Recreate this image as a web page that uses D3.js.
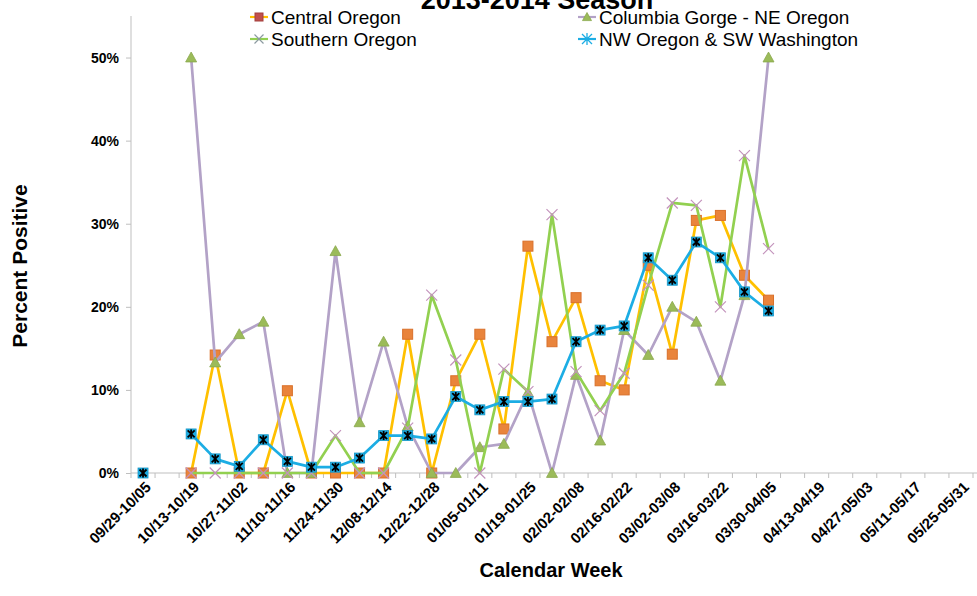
<!DOCTYPE html>
<html>
<head>
<meta charset="utf-8">
<script src="https://cdn.jsdelivr.net/npm/d3@7"></script>
<style>
  body { margin: 0; background: #fff; }
  svg { font-family: "Liberation Sans", Arial, sans-serif; display: block; }
</style>
</head>
<body>
<div id="chart"></div>
<script>
// Data (percent positive per calendar week)
const weeks = [
  "09/29-10/05", "10/06-10/12", "10/13-10/19", "10/20-10/26", "10/27-11/02",
  "11/03-11/09", "11/10-11/16", "11/17-11/23", "11/24-11/30", "12/01-12/07",
  "12/08-12/14", "12/15-12/21", "12/22-12/28", "12/29-01/04", "01/05-01/11",
  "01/12-01/18", "01/19-01/25", "01/26-02/01", "02/02-02/08", "02/09-02/15",
  "02/16-02/22", "02/23-03/01", "03/02-03/08", "03/09-03/15", "03/16-03/22",
  "03/23-03/29", "03/30-04/05", "04/06-04/12", "04/13-04/19", "04/20-04/26",
  "04/27-05/03", "05/04-05/10", "05/11-05/17", "05/18-05/24", "05/25-05/31"
];
const centralOregon = [null, null, 0, 14.2, 0, 0, 9.9, 0, 0, 0, 0, 16.7, 0, 11.1, 16.7,
  5.3, 27.3, 15.8, 21.1, 11.1, 10.0, 25.0, 14.3, 30.4, 31.0, 23.8, 20.8];
const columbiaGorge = [null, null, 50, 13.3, 16.7, 18.2, 0, 0, 26.7, 6.1, 15.8, 5.6, 0, 0, 3.1,
  3.5, 9.7, 0, 11.8, 3.9, 17.2, 14.2, 20.0, 18.2, 11.1, 21.4, 50];
const southernOregon = [null, null, 0, 0, 0, 0, 0, 0, 4.5, 0, 0, 5.4, 21.4, 13.6, 0,
  12.5, 9.8, 31.1, 12.2, 7.5, 12.0, 22.6, 32.5, 32.2, 20.0, 38.2, 27.0];
const nwOregon = [0, null, 4.7, 1.7, 0.8, 4.0, 1.4, 0.7, 0.7, 1.8, 4.5, 4.5, 4.1, 9.2, 7.6,
  8.6, 8.6, 8.9, 15.8, 17.2, 17.7, 25.9, 23.2, 27.8, 25.9, 21.8, 19.5];
const yTicks = [0, 10, 20, 30, 40, 50];

// Series styling
const series = [
  { name: "Central Oregon", values: centralOregon, line: "#FFC000", marker: "square" },
  { name: "Columbia Gorge - NE Oregon", values: columbiaGorge, line: "#B3A2C7", marker: "triangle" },
  { name: "Southern Oregon", values: southernOregon, line: "#92D050", marker: "cross" },
  { name: "NW Oregon & SW Washington", values: nwOregon, line: "#1CADE4", marker: "star" }
];

const width = 977, height = 596;
const plotLeft = 131, plotRight = 973, plotTop = 16, plotBottom = 473;

const svg = d3.select("#chart").append("svg")
  .attr("width", width)
  .attr("height", height);

const x = d3.scaleBand().domain(weeks).range([plotLeft, plotRight]);
const y = d3.scaleLinear().domain([0, 55]).range([plotBottom, plotTop]);
const cx = d => x(d) + x.bandwidth() / 2;

// Title (partly cut off at the top, as in the original)
svg.append("text")
  .attr("x", 537).attr("y", 9)
  .attr("text-anchor", "middle")
  .attr("font-size", 27).attr("font-weight", "bold")
  .text("2013-2014 Season");

// Y axis
const yAxis = svg.append("g")
  .attr("transform", `translate(${plotLeft},0)`)
  .call(d3.axisLeft(y).tickValues(yTicks).tickSize(5).tickFormat(d => d + "%"));
yAxis.select(".domain").attr("stroke", "#BFBFBF").attr("d", `M0,${plotTop}V${plotBottom}`);
yAxis.selectAll(".tick line").attr("stroke", "#BFBFBF");
yAxis.selectAll(".tick text")
  .attr("x", -12)
  .attr("font-size", 14).attr("font-weight", "bold")
  .attr("font-family", "Liberation Sans, Arial, sans-serif")
  .attr("fill", "#000");

// X axis: tick marks between weeks, labels every other week
const xAxisG = svg.append("g").attr("transform", `translate(0,${plotBottom})`);
xAxisG.append("line")
  .attr("x1", plotLeft).attr("x2", plotRight + 4)
  .attr("stroke", "#BFBFBF");
xAxisG.selectAll("line.tk")
  .data(weeks.concat(["end"]))
  .join("line")
    .attr("class", "tk")
    .attr("x1", (d, i) => plotLeft + i * x.step())
    .attr("x2", (d, i) => plotLeft + i * x.step())
    .attr("y1", 0).attr("y2", 5)
    .attr("stroke", "#BFBFBF");
xAxisG.selectAll("text")
  .data(weeks.filter((d, i) => i % 2 === 0))
  .join("text")
    .attr("transform", d => `translate(${cx(d) + 9},${15}) rotate(-45)`)
    .attr("text-anchor", "end")
    .attr("font-size", 15).attr("font-weight", "bold")
    .text(d => d);

// Axis titles
svg.append("text")
  .attr("transform", "translate(27,266) rotate(-90)")
  .attr("text-anchor", "middle")
  .attr("font-size", 21).attr("font-weight", "bold")
  .text("Percent Positive");
svg.append("text")
  .attr("x", 551).attr("y", 577)
  .attr("text-anchor", "middle")
  .attr("font-size", 20).attr("font-weight", "bold")
  .text("Calendar Week");

// Marker drawing
function drawMarker(g, type, legend) {
  if (type === "square") {
    const s = legend ? 8 : 10;
    g.append("rect").attr("x", -s / 2).attr("y", -s / 2).attr("width", s).attr("height", s)
      .attr("fill", legend ? "#C0504D" : "#E9843C")
      .attr("stroke", legend ? "#A33F3C" : "#D9702A").attr("stroke-width", 1);
  } else if (type === "triangle") {
    const s = legend ? 4.5 : 5.5;
    g.append("path").attr("d", `M0,${-s}L${s},${s * 0.8}L${-s},${s * 0.8}Z`)
      .attr("fill", "#9BBB59").attr("stroke", "#8AA84E").attr("stroke-width", 0.8);
  } else if (type === "cross") {
    const s = legend ? 4.5 : 5.5;
    g.append("path").attr("d", `M${-s},${-s}L${s},${s}M${-s},${s}L${s},${-s}`)
      .attr("stroke", legend ? "#8C9AA0" : "#C393BC").attr("stroke-width", 1.2).attr("fill", "none");
  } else if (type === "star") {
    if (legend) {
      g.append("path").attr("d", "M-5,-5L5,5M-5,5L5,-5M0,-6V6")
        .attr("stroke", "#1CADE4").attr("stroke-width", 1.3).attr("fill", "none");
    } else {
      g.append("rect").attr("x", -5).attr("y", -5).attr("width", 10).attr("height", 10)
        .attr("fill", "#1CADE4").attr("stroke", "#1596C6").attr("stroke-width", 0.8);
      g.append("path").attr("d", "M-3.5,-3.5L3.5,3.5M-3.5,3.5L3.5,-3.5M0,-4.5V4.5")
        .attr("stroke", "#000").attr("stroke-width", 1.8).attr("fill", "none");
    }
  }
}

// Lines + markers
const line = d3.line()
  .defined(d => d.v !== null)
  .x(d => cx(d.w))
  .y(d => y(d.v));

series.forEach(s => {
  const pts = s.values.map((v, i) => ({ w: weeks[i], v: v }));
  const g = svg.append("g");
  g.append("path")
    .datum(pts)
    .attr("fill", "none")
    .attr("stroke", s.line)
    .attr("stroke-width", 2.7)
    .attr("stroke-linejoin", "round")
    .attr("d", line);
  g.selectAll("g.mk")
    .data(pts.filter(d => d.v !== null))
    .join("g")
      .attr("class", "mk")
      .attr("transform", d => `translate(${cx(d.w)},${y(d.v)})`)
      .each(function() { drawMarker(d3.select(this), s.marker, false); });
});

// Legend (two columns, two rows)
const legendPos = [[250, 17], [578, 17], [250, 39], [578, 39]];
series.forEach((s, i) => {
  const g = svg.append("g").attr("transform", `translate(${legendPos[i][0]},${legendPos[i][1]})`);
  g.append("line").attr("x1", 0).attr("x2", 18).attr("stroke", s.line).attr("stroke-width", 2.2);
  drawMarker(g.append("g").attr("transform", "translate(9,0)"), s.marker, true);
  g.append("text")
    .attr("x", 21).attr("y", 6.5)
    .attr("font-size", 19)
    .text(s.name);
});
</script>
</body>
</html>
